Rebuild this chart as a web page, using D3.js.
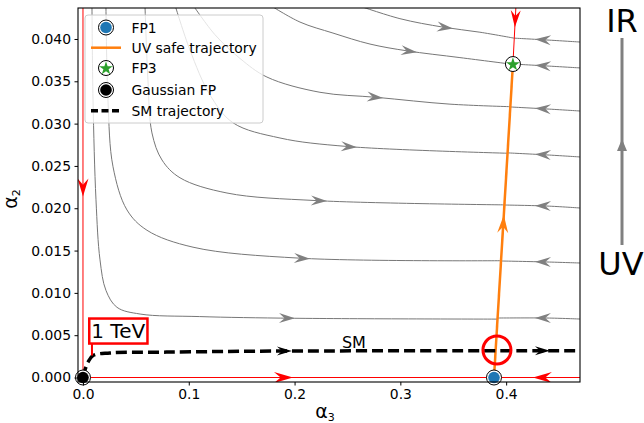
<!DOCTYPE html>
<html>
<head>
<meta charset="utf-8">
<script src="https://cdn.jsdelivr.net/npm/d3@7"></script>
<style>
  body { margin: 0; background: #fff; }
  text { font-family: "DejaVu Sans", sans-serif; }
</style>
</head>
<body>
<div id="chart"></div>
<script>
// ---- data (alpha3, alpha2) ----
// streamlines flowing right toward the FP1-FP3 line
var leftStreams = [
  [[0.0085,0.0440],[0.0095,0.0328],[0.0123,0.0210],[0.0161,0.0139],[0.0217,0.0103],[0.0321,0.0083],[0.054,0.0075],[0.11,0.0072],[0.20,0.0070],[0.392,0.0069]],
  [[0.0217,0.0440],[0.0236,0.0328],[0.0284,0.0249],[0.0416,0.0198],[0.0605,0.0174],[0.104,0.0154],[0.2051,0.0141],[0.395,0.0138]],
  [[0.0586,0.0440],[0.0614,0.0352],[0.0652,0.0289],[0.0747,0.0257],[0.0917,0.0236],[0.1361,0.0218],[0.2212,0.0209],[0.398,0.0204]],
  [[0.087,0.0440],[0.1011,0.0387],[0.12,0.0334],[0.1418,0.0301],[0.1862,0.0283],[0.2495,0.0273],[0.401,0.0265]],
  [[0.104,0.0440],[0.1248,0.0405],[0.1484,0.0377],[0.1739,0.0355],[0.224,0.0337],[0.2779,0.0331],[0.3469,0.0323],[0.404,0.0320]],
  [[0.1767,0.0440],[0.2051,0.0420],[0.2363,0.0407],[0.2713,0.0394],[0.3062,0.0386],[0.3563,0.0378],[0.4064,0.0370]],
  [[0.259,0.0440],[0.2996,0.0424],[0.3403,0.0414],[0.3752,0.0408],[0.4074,0.0401]]
];
var leftArrowAt = [0.2004, 0.2146, 0.2306, 0.259, 0.2836, 0.3157, 0.3497];

// streamlines flowing left from the right edge
var rightStreams = [
  [[0.4698,0.03964],[0.4386,0.03988],[0.4074,0.0401]],
  [[0.4698,0.03658],[0.4386,0.03681],[0.4064,0.03704]],
  [[0.4698,0.03149],[0.4386,0.03173],[0.4036,0.03197]],
  [[0.4698,0.02606],[0.4386,0.0263],[0.4017,0.02654]],
  [[0.4698,0.02003],[0.4386,0.02026],[0.3989,0.02038]],
  [[0.4698,0.01353],[0.4386,0.01365],[0.395,0.01377]],
  [[0.4698,0.00691],[0.4386,0.00703],[0.3922,0.00703]]
];
var rightArrowAt = 0.4272;

var fp1 = [0.3885, 0];
var fp3 = [0.4064, 0.03704];
var gaussFP = [0, 0];
var uvSafe = [fp1, fp3];
var smTrajectory = [[0,0],[0.0019,0.0009],[0.0047,0.0018],[0.0095,0.0026],[0.0255,0.0029],[0.079,0.0030],[0.195,0.00313],[0.47,0.00315]];
var smArrowAt = [0.1975, 0.4414];
var redVertical = [[0,0.0440],[0,0]];
var redHorizontal = [[0,0],[0.4698,0]];
var redTop = [fp3, [0.4093,0.0440]];
var redArrowH = [0.1985, 0.4253];
var redArrowV = 0.0214;
var redArrowTop = 0.0414;
var uvArrowAt = 0.0192;
var teVPoint = [0.0085, 0.0026];
var teVLabel = [0.0333, 0.00555];
var smLabel = [0.2561, 0.00349];
var circlePoint = [0.3913, 0.00325];

var xTicks = [0, 0.1, 0.2, 0.3, 0.4];
var yTicks = [0, 0.005, 0.01, 0.015, 0.02, 0.025, 0.03, 0.035, 0.04];
var legendItems = ["FP1", "UV safe trajectory", "FP3", "Gaussian FP", "SM trajectory"];

// ---- drawing ----
var W = 644, H = 423;
var svg = d3.select("#chart").append("svg").attr("width", W).attr("height", H);

var x = d3.scaleLinear().domain([-0.0047, 0.4698]).range([78, 580]);
var y = d3.scaleLinear().domain([-0.00053, 0.04366]).range([382, 8]);

svg.append("clipPath").attr("id", "clip")
   .append("rect").attr("x", 78).attr("y", 8).attr("width", 502).attr("height", 374);

var plot = svg.append("g").attr("clip-path", "url(#clip)");
var curved = d3.line().x(function(d){ return x(d[0]); }).y(function(d){ return y(d[1]); })
               .curve(d3.curveCatmullRom.alpha(0.5));
var straight = d3.line().x(function(d){ return x(d[0]); }).y(function(d){ return y(d[1]); });

function arrowPath(L, Wd) {
  return "M0,0 L" + (-L) + "," + (-Wd/2) + " L" + (-L*0.65) + ",0 L" + (-L) + "," + (Wd/2) + "Z";
}

// put an arrow head with its tip where the path reaches coordinate v (axis "x" or "y")
function arrowOn(pathNode, v, axis, color, L, Wd, g) {
  var total = pathNode.getTotalLength();
  var lo = 0, hi = total;
  var p0 = pathNode.getPointAtLength(0), p1 = pathNode.getPointAtLength(total);
  var increasing = p1[axis] > p0[axis];
  for (var i = 0; i < 40; i++) {
    var mid = (lo + hi) / 2;
    var p = pathNode.getPointAtLength(mid);
    if ((p[axis] < v) === increasing) lo = mid; else hi = mid;
  }
  var l = (lo + hi) / 2;
  var a = pathNode.getPointAtLength(Math.max(0, l - 2));
  var b = pathNode.getPointAtLength(Math.min(total, l + 2));
  var ang = Math.atan2(b.y - a.y, b.x - a.x) * 180 / Math.PI;
  var c = pathNode.getPointAtLength(l);
  g.append("path").attr("d", arrowPath(L, Wd))
   .attr("transform", "translate(" + c.x + "," + c.y + ") rotate(" + ang + ")")
   .attr("fill", color);
}

// grey streamlines
leftStreams.forEach(function(s, i) {
  var p = plot.append("path").attr("d", curved(s)).attr("fill", "none")
              .attr("stroke", "#777").attr("stroke-width", 1);
  arrowOn(p.node(), x(leftArrowAt[i]), "x", "#808080", 16, 10, plot);
});
rightStreams.forEach(function(s) {
  var p = plot.append("path").attr("d", curved(s)).attr("fill", "none")
              .attr("stroke", "#777").attr("stroke-width", 1);
  arrowOn(p.node(), x(rightArrowAt), "x", "#808080", 16, 10, plot);
});

// red separatrices
var rv = plot.append("path").attr("d", straight(redVertical)).attr("stroke", "red").attr("stroke-width", 1).attr("fill", "none");
arrowOn(rv.node(), y(redArrowV), "y", "red", 18, 11, plot);
var rh = plot.append("path").attr("d", straight(redHorizontal)).attr("stroke", "red").attr("stroke-width", 1).attr("fill", "none");
arrowOn(rh.node(), x(redArrowH[0]), "x", "red", 19, 11, plot);
var rh2 = plot.append("path").attr("d", straight([redHorizontal[1], redHorizontal[0]])).attr("stroke", "none").attr("fill", "none");
arrowOn(rh2.node(), x(redArrowH[1]), "x", "red", 19, 11, plot);
var rt = plot.append("path").attr("d", straight([redTop[1], redTop[0]])).attr("stroke", "red").attr("stroke-width", 1).attr("fill", "none");
arrowOn(rt.node(), y(redArrowTop), "y", "red", 17, 10, plot);

// UV safe trajectory
var uv = plot.append("path").attr("d", straight(uvSafe)).attr("stroke", "#ff7f0e").attr("stroke-width", 2.5).attr("fill", "none");
arrowOn(uv.node(), y(uvArrowAt), "y", "#ff7f0e", 18, 11, plot);

// SM trajectory
var sm = plot.append("path").attr("d", curved(smTrajectory)).attr("stroke", "#000").attr("stroke-width", 3.5)
             .attr("stroke-dasharray", "11,5").attr("fill", "none");
smArrowAt.forEach(function(v) { arrowOn(sm.node(), x(v), "x", "#000", 15, 9, plot); });

// red circle
svg.append("circle").attr("cx", x(circlePoint[0])).attr("cy", y(circlePoint[1])).attr("r", 14)
   .attr("fill", "none").attr("stroke", "red").attr("stroke-width", 3);

// SM label
svg.append("text").attr("x", x(smLabel[0])).attr("y", y(smLabel[1])).attr("text-anchor", "middle")
   .attr("font-size", 16).text("SM");

// markers
function marker(g, cx, cy, kind) {
  g.append("circle").attr("cx", cx).attr("cy", cy).attr("r", 7.5).attr("fill", "#fff").attr("stroke", "#000").attr("stroke-width", 1);
  if (kind === "star") {
    g.append("path").attr("d", d3.symbol(d3.symbolStar, 58)()).attr("transform", "translate(" + cx + "," + (cy + 0.5) + ")")
     .attr("fill", "#2ca02c");
  } else {
    g.append("circle").attr("cx", cx).attr("cy", cy).attr("r", 5.8).attr("fill", kind === "blue" ? "#1f77b4" : "#000");
  }
}
marker(svg, x(gaussFP[0]), y(gaussFP[1]), "black");
marker(svg, x(fp1[0]), y(fp1[1]), "blue");
marker(svg, x(fp3[0]), y(fp3[1]), "star");

// 1 TeV annotation
var tev = svg.append("g");
var tevText = tev.append("text").attr("x", x(teVLabel[0])).attr("y", y(teVLabel[1]) + 7)
   .attr("text-anchor", "middle").attr("font-size", 20).text("1 TeV");
var bb = tevText.node().getBBox();
tev.insert("rect", "text").attr("x", bb.x - 2).attr("y", y(teVLabel[1]) - 12).attr("width", bb.width + 4).attr("height", 25)
   .attr("fill", "#fff").attr("stroke", "red").attr("stroke-width", 2.5);
tev.append("line").attr("x1", x(teVPoint[0])).attr("x2", x(teVPoint[0]))
   .attr("y1", y(teVLabel[1]) + 13).attr("y2", y(teVPoint[1]))
   .attr("stroke", "red").attr("stroke-width", 2);

// frame
svg.append("rect").attr("x", 78).attr("y", 8).attr("width", 502).attr("height", 374)
   .attr("fill", "none").attr("stroke", "#000").attr("stroke-width", 1.1);

// axes
var xAxis = svg.append("g").attr("transform", "translate(0,382)")
  .call(d3.axisBottom(x).tickValues(xTicks).tickFormat(d3.format(".1f")).tickSize(3.5).tickPadding(3.5));
var yAxis = svg.append("g").attr("transform", "translate(78,0)")
  .call(d3.axisLeft(y).tickValues(yTicks).tickFormat(d3.format(".3f")).tickSize(3.5).tickPadding(3.5));
[xAxis, yAxis].forEach(function(a) {
  a.select(".domain").remove();
  a.selectAll("text").attr("font-size", 13.9).attr("font-family", "DejaVu Sans").attr("fill", "#000");
  a.selectAll("line").attr("stroke", "#000");
});

// axis labels
var xl = svg.append("text").attr("x", 325).attr("y", 418).attr("text-anchor", "middle").attr("font-size", 19);
xl.append("tspan").text("α");
xl.append("tspan").attr("font-size", 11).attr("dy", 3).text("3");
var yl = svg.append("text").attr("transform", "translate(17,199) rotate(-90)").attr("text-anchor", "middle").attr("font-size", 19);
yl.append("tspan").text("α");
yl.append("tspan").attr("font-size", 11).attr("dy", 3).text("2");

// legend
var lg = svg.append("g");
lg.append("rect").attr("x", 85).attr("y", 15).attr("width", 178).attr("height", 108).attr("rx", 3)
  .attr("fill", "#fff").attr("fill-opacity", 0.8).attr("stroke", "#ccc").attr("stroke-width", 1);
var rowY = [27.5, 47.7, 68, 90, 110.7];
legendItems.forEach(function(name, i) {
  var cy = rowY[i];
  if (i === 0) marker(lg, 106, cy, "blue");
  if (i === 2) marker(lg, 106, cy, "star");
  if (i === 3) marker(lg, 106, cy, "black");
  if (i === 1) lg.append("line").attr("x1", 91).attr("x2", 121).attr("y1", cy).attr("y2", cy)
                 .attr("stroke", "#ff7f0e").attr("stroke-width", 2.5);
  if (i === 4) lg.append("line").attr("x1", 91).attr("x2", 121).attr("y1", cy).attr("y2", cy)
                 .attr("stroke", "#000").attr("stroke-width", 3.5).attr("stroke-dasharray", "7,3.5");
  lg.append("text").attr("x", 131.5).attr("y", cy + 5).attr("font-size", 13.9).text(name);
});

// IR / UV arrow
svg.append("text").attr("x", 622).attr("y", 32).attr("text-anchor", "middle").attr("font-size", 32).text("IR");
svg.append("text").attr("x", 621).attr("y", 275).attr("text-anchor", "middle").attr("font-size", 32).text("UV");
svg.append("line").attr("x1", 622).attr("x2", 622).attr("y1", 38).attr("y2", 245)
   .attr("stroke", "#808080").attr("stroke-width", 3);
svg.append("path").attr("d", "M622,139 L617,151 L627,151 Z").attr("fill", "#808080");
</script>
</body>
</html>
